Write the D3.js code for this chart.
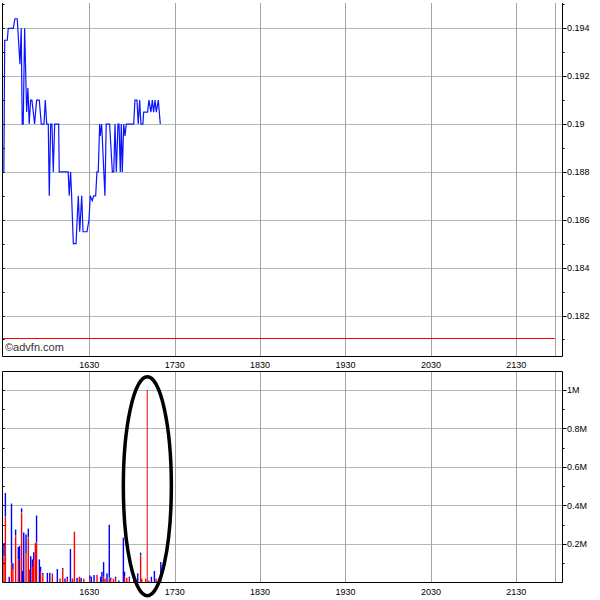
<!DOCTYPE html>
<html><head><meta charset="utf-8">
<script src="https://cdn.jsdelivr.net/npm/d3@7"></script>
<style>body{margin:0;background:#fff}svg{display:block}</style>
</head><body><svg id="c" width="600" height="600"></svg>
<script>
// ---- data ----
const sessionOpen = 930;   // 15:30, minutes of day
const sessionClose = 1317; // end-of-session marker
const priceTimes = [0, 0.6, 2.4, 3.1, 6.6, 7.8, 9.4, 11.3, 12.2, 12.9,
  13.6, 14.6, 16.0, 16.9, 17.8, 18.8, 19.7, 21.6, 23.0, 24.9,
  26.3, 28.2, 29.1, 30.1, 31.2, 31.9, 32.9, 33.8, 34.7, 35.7,
  38.5, 38.9, 45.2, 45.9, 46.9, 47.6, 48.8, 50.7, 52.3, 53.3,
  54.7, 55.6, 58.4, 59.8, 60.7, 62.1, 63.1, 64.5, 65.4, 66.3,
  67.3, 67.7, 68.7, 71.0, 71.9, 74.3, 76.2, 77.2, 78.1, 79.0,
  80.2, 80.9, 81.8, 82.5, 83.2, 84.2, 85.1, 86.0, 91.2, 92.1,
  93.5, 94.4, 95.4, 96.3, 97.7, 98.2, 101.0, 101.9, 103.3, 104.3,
  105.2, 106.2, 107.1, 108.5, 109.9];
const prices = [0.188, 0.1935, 0.1935, 0.194, 0.194, 0.1944, 0.1944, 0.1925, 0.194, 0.19,
  0.19, 0.194, 0.1905, 0.1915, 0.19, 0.191, 0.191, 0.19, 0.191, 0.191,
  0.19, 0.19, 0.191, 0.19, 0.19, 0.187, 0.19, 0.19, 0.188, 0.19,
  0.19, 0.188, 0.188, 0.187, 0.188, 0.187, 0.185, 0.185, 0.187, 0.1855,
  0.187, 0.1855, 0.1855, 0.186, 0.187, 0.1868, 0.187, 0.187, 0.188, 0.188,
  0.19, 0.1895, 0.19, 0.187, 0.19, 0.19, 0.188, 0.188, 0.19, 0.188,
  0.19, 0.19, 0.188, 0.19, 0.188, 0.19, 0.1895, 0.19, 0.19, 0.191,
  0.191, 0.19, 0.191, 0.19, 0.19, 0.1905, 0.1905, 0.191, 0.1905, 0.191,
  0.1905, 0.191, 0.1905, 0.191, 0.19];
const refPrice = 0.18107;

const volTimes = [0, 1.0, 3.7, 5.3, 6.3, 8.2, 10.1, 11.0, 12.4, 13.1,
  13.9, 15.5, 17.1, 17.8, 18.8, 20.0, 20.9, 22.1, 22.9, 24.9,
  25.7, 27.3, 30.5, 32.2, 34.0, 37.5, 39.4, 41.3, 42.9, 44.5,
  46.7, 48.1, 49.5, 51.4, 53.0, 54.2, 56.1, 60.3, 61.4, 63.3,
  65.4, 67.9, 68.8, 70.0, 71.0, 72.4, 74.0, 75.0, 76.9, 78.4,
  80.7, 83.9, 84.7, 86.3, 88.1, 91.2, 92.3, 94.0, 96.0, 96.8,
  99.6, 100.8, 101.7, 103.6, 105.7, 106.9, 110.2];
const volRed = [0.13, 0.34, 0, 0.10, 0.07, 0.24, 0.12, 0, 0.36, 0,
  0, 0.15, 0.23, 0.068, 0, 0.08, 0.117, 0.206, 0.203, 0,
  0.056, 0.04, 0, 0, 0.045, 0, 0.021, 0.07, 0, 0.015,
  0, 0.021, 0.264, 0, 0.03, 0, 0.02, 0.02, 0, 0,
  0.04, 0, 0, 0.03, 0.02, 0, 0.02, 0.015, 0.02, 0.02,
  0, 0, 0.03, 0.025, 0.02, 0, 0, 0, 0.138, 0.02,
  0.02, 1.0, 0.01, 0, 0, 0.02, 0.034];
const volGreen = [0.005, 0.005, 0, 0, 0, 0.005, 0, 0, 0.005, 0,
  0, 0, 0.005, 0, 0, 0, 0, 0, 0.005, 0,
  0, 0, 0, 0, 0.003, 0, 0, 0, 0, 0,
  0, 0, 0, 0, 0, 0, 0, 0, 0, 0,
  0, 0, 0, 0, 0, 0, 0.005, 0, 0, 0,
  0, 0, 0, 0, 0, 0, 0, 0, 0.005, 0,
  0, 0, 0, 0, 0, 0, 0];
const volBlue = [0.07, 0.12, 0.03, 0.31, 0.03, 0.03, 0.065, 0.19, 0.02, 0.06,
  0.26, 0.10, 0.045, 0, 0.137, 0.04, 0.04, 0, 0.14, 0.12,
  0.026, 0.01, 0.05, 0.05, 0, 0.07, 0, 0.005, 0.021, 0.015,
  0.174, 0, 0, 0.024, 0, 0.024, 0, 0.016, 0.03, 0.039,
  0, 0.03, 0.055, 0.076, 0, 0.047, 0.275, 0.01, 0, 0.01,
  0.01, 0.233, 0.026, 0, 0.01, 0.02, 0.02, 0.048, 0.012, 0,
  0, 0, 0, 0.03, 0.06, 0, 0.072];

const timeTicks = [990, 1050, 1110, 1170, 1230, 1290];
const timeLabels = ["1630", "1730", "1830", "1930", "2030", "2130"];
const priceTicks = [0.182, 0.184, 0.186, 0.188, 0.19, 0.192, 0.194];
const priceLabels = ["0.182", "0.184", "0.186", "0.188", "0.19", "0.192", "0.194"];
const priceMinor = [0.181, 0.182, 0.183, 0.184, 0.185, 0.186, 0.187, 0.188, 0.189, 0.19, 0.191, 0.192, 0.193, 0.194, 0.195];
const volTicks = [0.2, 0.4, 0.6, 0.8, 1.0];
const volLabels = ["0.2M", "0.4M", "0.6M", "0.8M", "1M"];
const volMinor = [0.1, 0.2, 0.3, 0.4, 0.5, 0.6, 0.7, 0.8, 0.9, 1.0];
const creditText = "\u00a9advfn.com";

// ---- layout ----
const L = 3, R = 562;
const topP = {t: 3, b: 356};
const botP = {t: 371, b: 582.5};
const svg = d3.select("#c");
const font = "Arial, 'Liberation Sans', sans-serif";

const x = d3.scaleLinear().domain([929.4, 1322.1]).range([L, R]);
const yP = d3.scaleLinear().domain([0.180308, 0.195057]).range([topP.b, topP.t]);
const yV = d3.scaleLinear().domain([0, 1.0987]).range([botP.b, botP.t]);

const gridV = "#a4a4a4", gridH = "#a8bcbc";
const vlines = timeTicks.concat([sessionClose]);

function panelGrid(yScale, ticks, p) {
  const g = svg.append("g");
  g.selectAll(".h").data(ticks).join("line")
    .attr("x1", L).attr("x2", R)
    .attr("y1", d => Math.round(yScale(d)) + 0.5).attr("y2", d => Math.round(yScale(d)) + 0.5)
    .attr("stroke", gridH).attr("stroke-width", 1);
  g.selectAll(".v").data(vlines).join("line")
    .attr("x1", d => Math.round(x(d)) + 0.5).attr("x2", d => Math.round(x(d)) + 0.5)
    .attr("y1", p.t).attr("y2", p.b)
    .attr("stroke", gridV).attr("stroke-width", 1);
}
panelGrid(yP, priceTicks, topP);
panelGrid(yV, volTicks, botP);

// reference price line
svg.append("line")
  .attr("x1", L).attr("x2", x(sessionClose))
  .attr("y1", Math.round(yP(refPrice)) + 0.5).attr("y2", Math.round(yP(refPrice)) + 0.5)
  .attr("stroke", "#ff0000").attr("stroke-width", 1);

// price line
const pts = priceTimes.map((t, i) => [sessionOpen + t, prices[i]]);
svg.append("path")
  .attr("d", d3.line().x(d => x(d[0])).y(d => yP(d[1]))(pts))
  .attr("fill", "none").attr("stroke", "#0a14ff").attr("stroke-width", 1.2)
  .attr("stroke-linejoin", "miter");

// volume bars (stacked red / green / blue)
const vdata = volTimes.map((t, i) => ({t: sessionOpen + t, r: volRed[i], g: volGreen[i], b: volBlue[i]}));
const stack = d3.stack().keys(["r", "g", "b"])(vdata);
const colors = {r: "#ff0000", g: "#00b000", b: "#0000ff"};
stack.forEach(layer => {
  svg.append("g").selectAll("rect").data(layer).join("rect")
    .attr("x", d => x(d.data.t) - 0.6)
    .attr("width", d => d.data.r >= 0.9 ? 1 : 1.4)
    .attr("y", d => yV(d[1]))
    .attr("height", d => Math.max(0, yV(d[0]) - yV(d[1])))
    .attr("fill", colors[layer.key]);
});

// frames
const ax = svg.append("g").attr("stroke", "#000").attr("stroke-width", 1).attr("fill", "none");
ax.append("path").attr("d", `M${L - 0.5},${topP.t}V${topP.b + 0.5}H${R + 0.5}V${topP.t}`);
ax.append("path").attr("d", `M${L - 0.5},${botP.t + 0.5}H${R + 0.5}V${botP.b}H${L - 0.5}Z`);

// ticks
function ticksRight(yScale, major, minor) {
  ax.append("g").selectAll("line").data(minor).join("line")
    .attr("x1", R + 0.5).attr("x2", R + 2.5)
    .attr("y1", d => Math.round(yScale(d)) + 0.5).attr("y2", d => Math.round(yScale(d)) + 0.5);
  ax.append("g").selectAll("line").data(major).join("line")
    .attr("x1", R + 0.5).attr("x2", R + 4.5)
    .attr("y1", d => Math.round(yScale(d)) + 0.5).attr("y2", d => Math.round(yScale(d)) + 0.5);
  ax.append("g").selectAll("line").data(minor).join("line")
    .attr("x1", L - 0.5).attr("x2", L + 1.5)
    .attr("y1", d => Math.round(yScale(d)) + 0.5).attr("y2", d => Math.round(yScale(d)) + 0.5);
}
ticksRight(yP, priceTicks, priceMinor.filter(d => yP(d) > topP.t && yP(d) < topP.b));
ticksRight(yV, volTicks, volMinor);

// labels
const lab = svg.append("g").attr("font-family", font).attr("font-size", 9).attr("fill", "#000");
lab.selectAll(".pl").data(priceTicks).join("text")
  .attr("x", R + 5).attr("y", d => yP(d)).attr("dy", "0.35em").text((d, i) => priceLabels[i]);
lab.selectAll(".vl").data(volTicks).join("text")
  .attr("x", R + 5).attr("y", d => yV(d)).attr("dy", "0.35em").text((d, i) => volLabels[i]);
lab.selectAll(".xt").data(timeTicks).join("text")
  .attr("x", d => x(d)).attr("y", 368).attr("text-anchor", "middle").text((d, i) => timeLabels[i]);
lab.selectAll(".xb").data(timeTicks).join("text")
  .attr("x", d => x(d)).attr("y", 595).attr("text-anchor", "middle").text((d, i) => timeLabels[i]);

svg.append("text").attr("x", 5).attr("y", 351)
  .attr("font-family", font).attr("font-size", 11).attr("fill", "#333")
  .text(creditText);

// highlight ellipse around the largest volume bar
const big = vdata.reduce((a, b) => (a.r + a.g + a.b >= b.r + b.g + b.b ? a : b));
svg.append("ellipse")
  .attr("cx", x(big.t)).attr("cy", yV(0.5))
  .attr("rx", 24).attr("ry", 109.5)
  .attr("fill", "none").attr("stroke", "#000").attr("stroke-width", 3.5);
</script>
</body></html>
